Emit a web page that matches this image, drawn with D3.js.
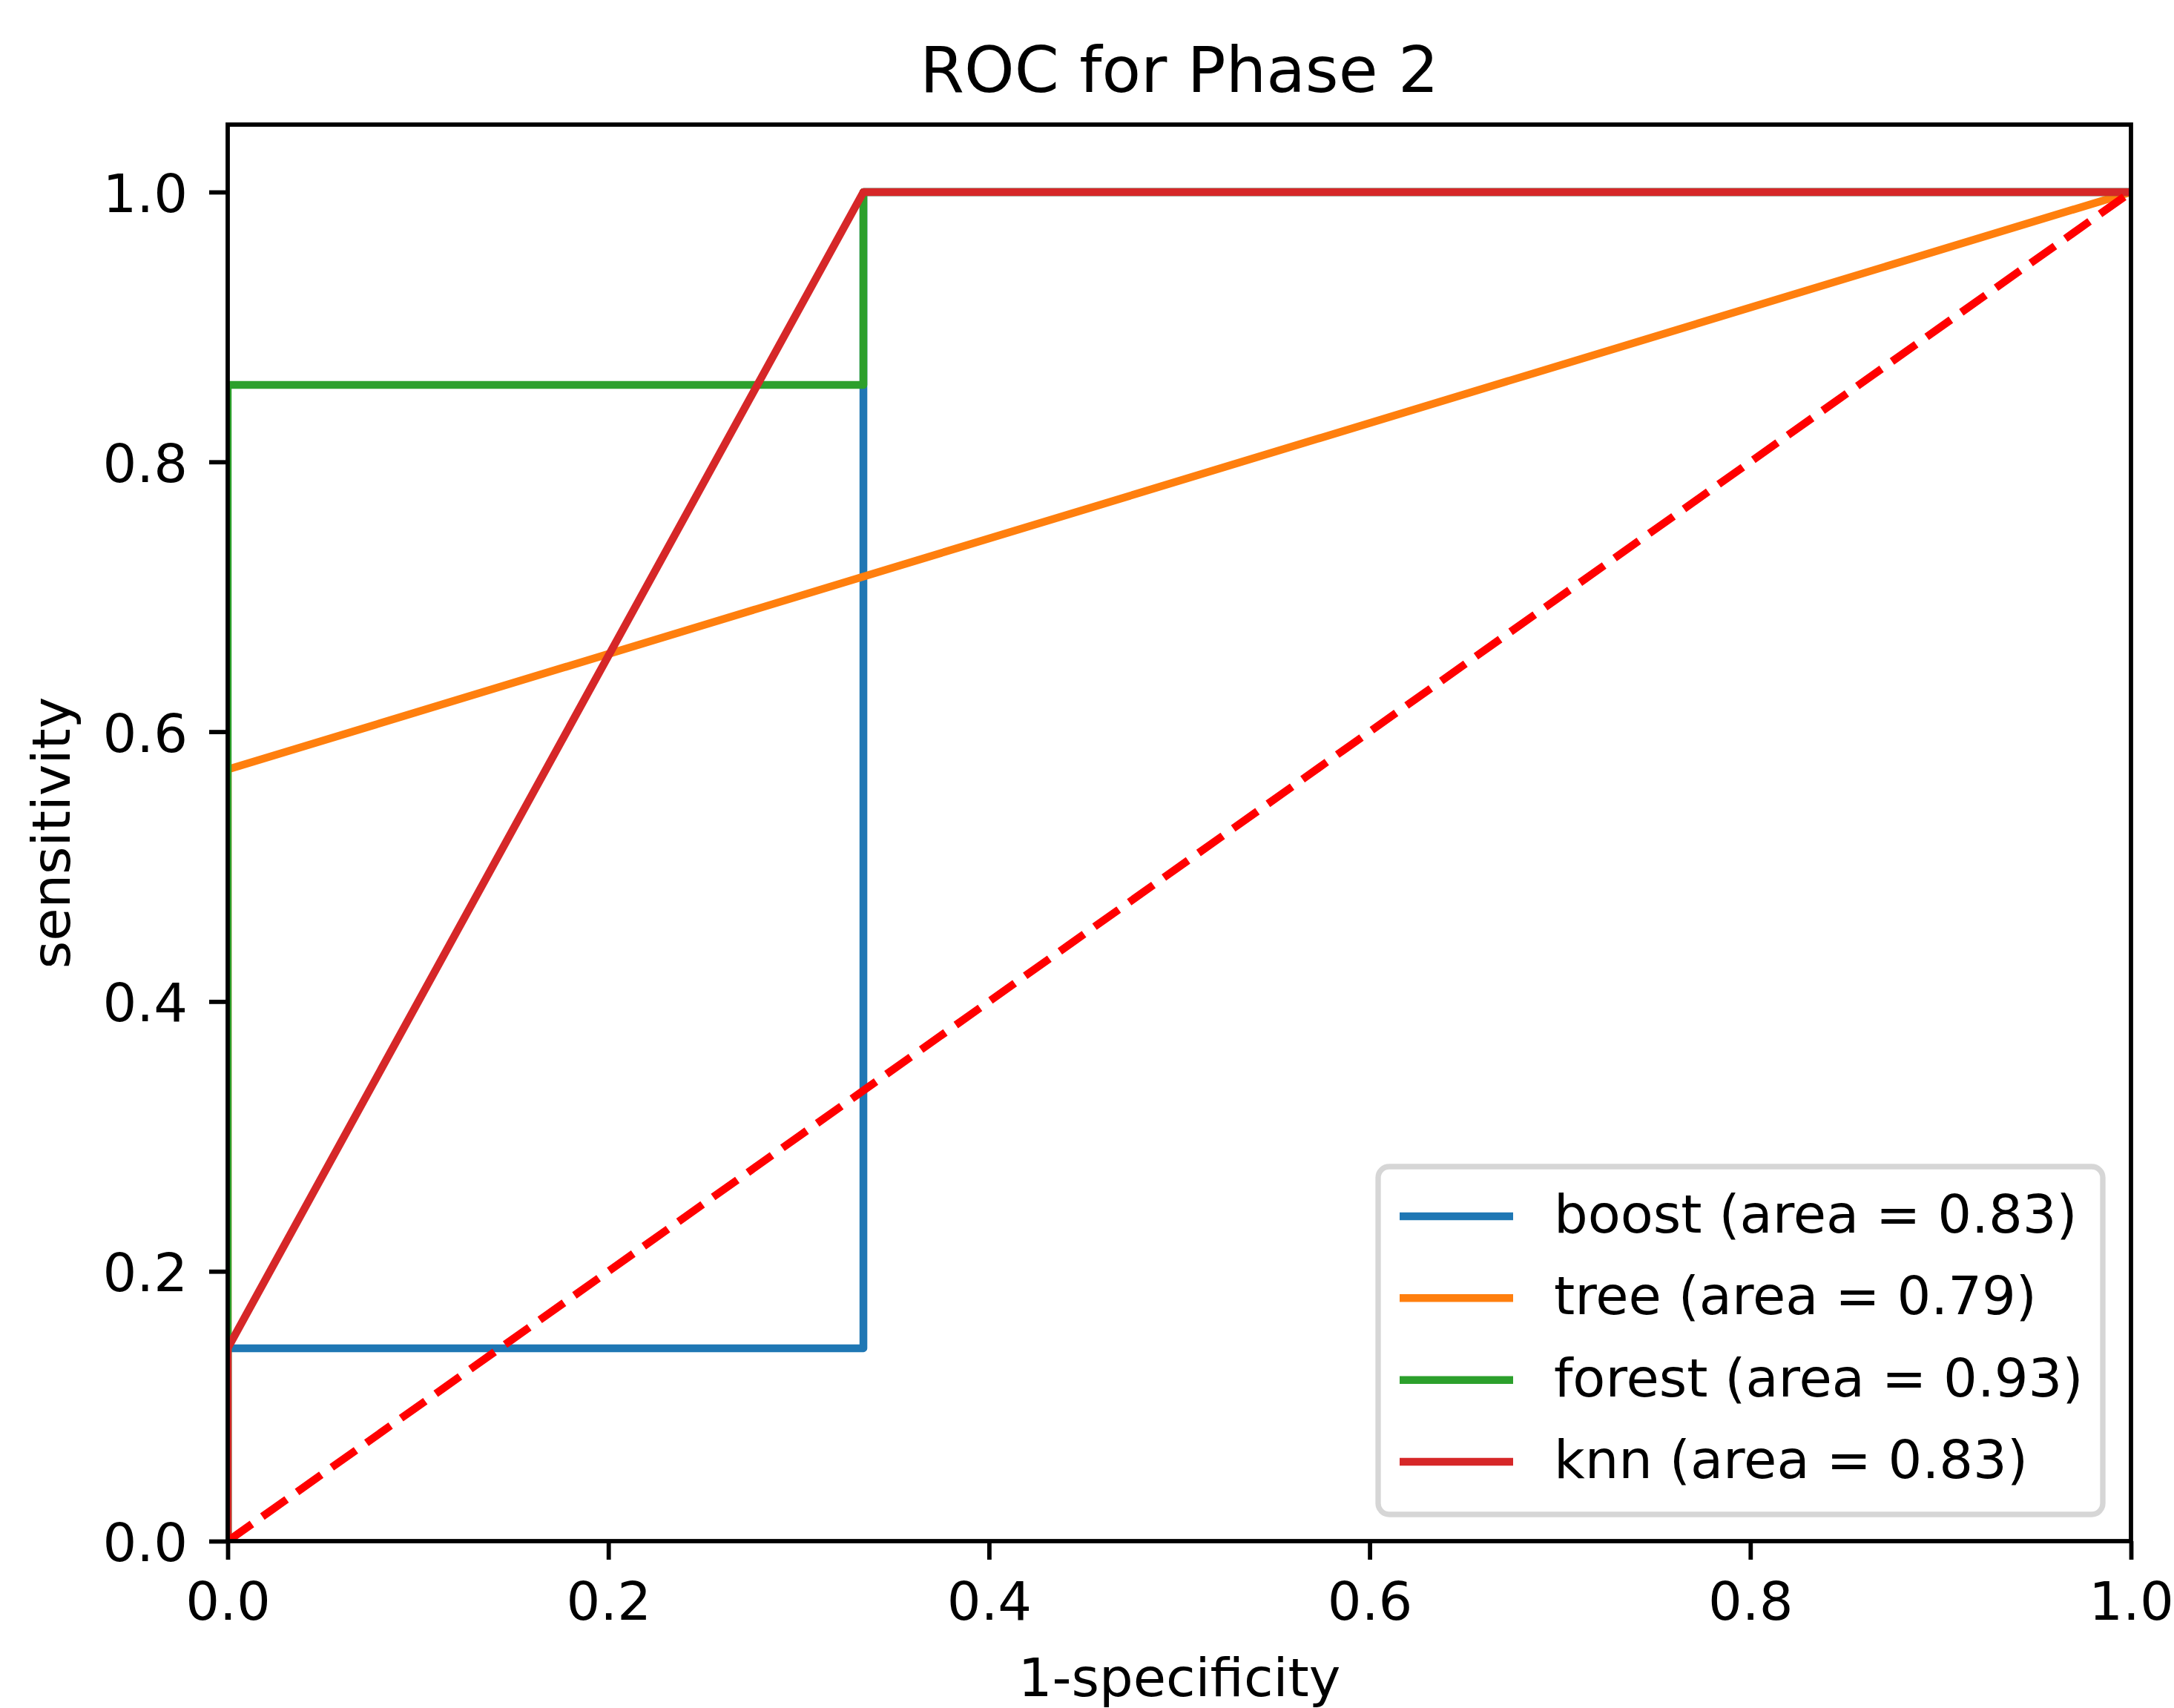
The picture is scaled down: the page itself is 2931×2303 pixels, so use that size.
<!DOCTYPE html>
<html>
<head>
<meta charset="utf-8">
<script src="https://cdn.jsdelivr.net/npm/d3@7"></script>
<style>
html, body { margin: 0; padding: 0; background: #ffffff; }
svg { display: block; }
text { font-family: "DejaVu Sans", sans-serif; fill: #000; }
</style>
</head>
<body>
<script>
// ---- data ----
const seriesNames = ["boost", "tree", "forest", "knn"];
const seriesAreas = ["0.83", "0.79", "0.93", "0.83"];
const seriesColors = ["#1f77b4", "#ff7f0e", "#2ca02c", "#d62728"];
const boostFpr = [0, 0, 0.334, 0.334, 1];
const boostTpr = [0, 0.143, 0.143, 1, 1];
const treeFpr = [0, 0, 1];
const treeTpr = [0, 0.572, 1];
const forestFpr = [0, 0, 0.334, 0.334, 1];
const forestTpr = [0, 0.857, 0.857, 1, 1];
const knnFpr = [0, 0, 0.334, 1];
const knnTpr = [0, 0.143, 1, 1];
const chanceFpr = [0, 1];
const chanceTpr = [0, 1];
const xTicks = [0, 0.2, 0.4, 0.6, 0.8, 1.0];
const yTicks = [0, 0.2, 0.4, 0.6, 0.8, 1.0];
const titleText = "ROC for Phase 2";
const xLabelText = "1-specificity";
const yLabelText = "sensitivity";

// ---- layout ----
const W = 2931, H = 2303;
const m = { left: 307, right: 58, top: 168, bottom: 225 };
const iw = W - m.left - m.right, ih = H - m.top - m.bottom;
const fs = 72;

const svg = d3.select("body").append("svg").attr("width", W).attr("height", H);
svg.append("rect").attr("width", W).attr("height", H).attr("fill", "#fff");

const x = d3.scaleLinear().domain([0, 1]).range([0, iw]);
const y = d3.scaleLinear().domain([0, 1.05]).range([ih, 0]);

const g = svg.append("g").attr("transform", `translate(${m.left},${m.top})`);

svg.append("defs").append("clipPath").attr("id", "clip")
  .append("rect").attr("x", 0).attr("y", 0).attr("width", iw).attr("height", ih);

const plot = g.append("g").attr("clip-path", "url(#clip)");
const line = d3.line().x(d => x(d[0])).y(d => y(d[1]));
const lw = 10.5;

const series = [
  [boostFpr, boostTpr], [treeFpr, treeTpr], [forestFpr, forestTpr], [knnFpr, knnTpr]
];
series.forEach((s, i) => {
  const pts = s[0].map((v, k) => [v, s[1][k]]);
  plot.append("path").attr("d", line(pts)).attr("fill", "none")
    .attr("stroke", seriesColors[i]).attr("stroke-width", lw)
    .attr("stroke-linejoin", "round").attr("stroke-linecap", "butt");
});
plot.append("path")
  .attr("d", line(chanceFpr.map((v, k) => [v, chanceTpr[k]])))
  .attr("fill", "none").attr("stroke", "red").attr("stroke-width", lw)
  .attr("stroke-dasharray", "40,17.3");

// ---- axes ----
const xAxis = d3.axisBottom(x).tickValues(xTicks).tickFormat(d3.format(".1f"))
  .tickSize(25).tickPadding(25);
const yAxis = d3.axisLeft(y).tickValues(yTicks).tickFormat(d3.format(".1f"))
  .tickSize(25).tickPadding(25);

const gx = g.append("g").attr("transform", `translate(0,${ih})`).call(xAxis);
const gy = g.append("g").call(yAxis);
[gx, gy].forEach(a => {
  a.select(".domain").remove();
  a.selectAll(".tick line").attr("stroke", "#000").attr("stroke-width", 5.8);
  a.selectAll(".tick text").style("font-family", "DejaVu Sans").style("font-size", fs + "px").attr("fill", "#000");
});
gx.selectAll(".tick text").attr("dy", null).attr("y", 106);
gy.selectAll(".tick text").attr("dy", null).attr("x", -54).attr("y", 26.5);

// spines
g.append("rect").attr("x", 0).attr("y", 0).attr("width", iw).attr("height", ih)
  .attr("fill", "none").attr("stroke", "#000").attr("stroke-width", 5.8)
  .attr("stroke-linejoin", "miter");

// ---- legend ----
const lg = svg.append("g");
const lx0 = 1858, ly0 = 1573, lx1 = 2835, ly1 = 2042;
lg.append("rect").attr("x", lx0).attr("y", ly0).attr("width", lx1 - lx0).attr("height", ly1 - ly0)
  .attr("rx", 15).attr("ry", 15).attr("fill", "rgba(255,255,255,0.8)")
  .attr("stroke", "#d6d6d6").attr("stroke-width", 7.3);
const rowY = d3.scaleLinear().domain([0, 3]).range([1640, 1971]);
seriesNames.forEach((n, i) => {
  const cy = rowY(i);
  lg.append("line").attr("x1", 1887).attr("x2", 2040).attr("y1", cy).attr("y2", cy)
    .attr("stroke", seriesColors[i]).attr("stroke-width", lw);
  lg.append("text").attr("x", 2095).attr("y", cy + 22).style("font-size", fs + "px")
    .text(`${n} (area = ${seriesAreas[i]})`);
});

// ---- labels ----
svg.append("text").attr("x", m.left + iw / 2).attr("y", 124).attr("text-anchor", "middle")
  .style("font-size", "86px").text(titleText);
svg.append("text").attr("x", m.left + iw / 2).attr("y", 2287).attr("text-anchor", "middle")
  .style("font-size", fs + "px").text(xLabelText);
svg.append("text").attr("transform", `translate(94,${m.top + ih / 2}) rotate(-90)`)
  .attr("text-anchor", "middle").style("font-size", fs + "px").text(yLabelText);
</script>
</body>
</html>
